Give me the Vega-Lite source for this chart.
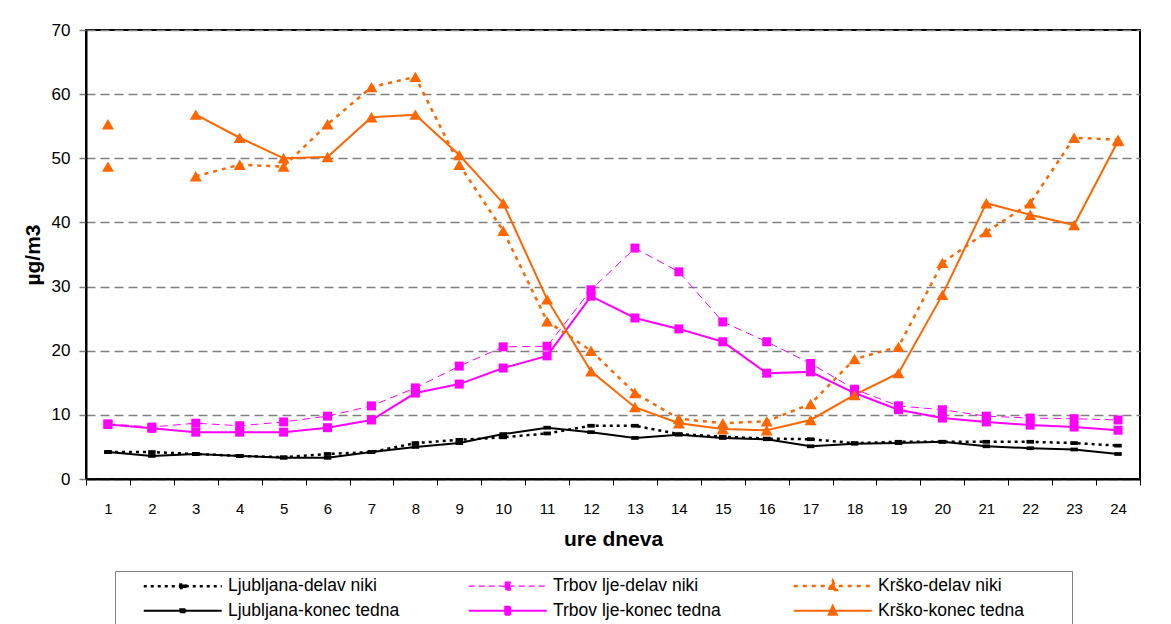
{
  "$schema": "https://vega.github.io/schema/vega-lite/v6.json",
  "autosize": {"type": "none"},
  "width": 1054,
  "height": 449,
  "padding": {"left": 86, "top": 30, "right": 31, "bottom": 145},
  "background": "#ffffff",
  "config": {
    "font": "Liberation Sans",
    "view": {"stroke": "#000000", "strokeWidth": 2}
  },
  "data": {
    "values": [
      {"h": 1, "s": "Ljubljana-delav niki", "v": 4.2}, {"h": 2, "s": "Ljubljana-delav niki", "v": 4.2}, {"h": 3, "s": "Ljubljana-delav niki", "v": 3.9}, {"h": 4, "s": "Ljubljana-delav niki", "v": 3.6}, {"h": 5, "s": "Ljubljana-delav niki", "v": 3.4}, {"h": 6, "s": "Ljubljana-delav niki", "v": 3.9}, {"h": 7, "s": "Ljubljana-delav niki", "v": 4.2}, {"h": 8, "s": "Ljubljana-delav niki", "v": 5.6}, {"h": 9, "s": "Ljubljana-delav niki", "v": 6.1}, {"h": 10, "s": "Ljubljana-delav niki", "v": 6.5}, {"h": 11, "s": "Ljubljana-delav niki", "v": 7.1}, {"h": 12, "s": "Ljubljana-delav niki", "v": 8.3}, {"h": 13, "s": "Ljubljana-delav niki", "v": 8.3}, {"h": 14, "s": "Ljubljana-delav niki", "v": 7.0}, {"h": 15, "s": "Ljubljana-delav niki", "v": 6.6}, {"h": 16, "s": "Ljubljana-delav niki", "v": 6.3}, {"h": 17, "s": "Ljubljana-delav niki", "v": 6.2}, {"h": 18, "s": "Ljubljana-delav niki", "v": 5.6}, {"h": 19, "s": "Ljubljana-delav niki", "v": 5.8}, {"h": 20, "s": "Ljubljana-delav niki", "v": 5.8}, {"h": 21, "s": "Ljubljana-delav niki", "v": 5.8}, {"h": 22, "s": "Ljubljana-delav niki", "v": 5.8}, {"h": 23, "s": "Ljubljana-delav niki", "v": 5.6}, {"h": 24, "s": "Ljubljana-delav niki", "v": 5.2},
      {"h": 1, "s": "Ljubljana-konec tedna", "v": 4.2}, {"h": 2, "s": "Ljubljana-konec tedna", "v": 3.6}, {"h": 3, "s": "Ljubljana-konec tedna", "v": 3.9}, {"h": 4, "s": "Ljubljana-konec tedna", "v": 3.6}, {"h": 5, "s": "Ljubljana-konec tedna", "v": 3.3}, {"h": 6, "s": "Ljubljana-konec tedna", "v": 3.3}, {"h": 7, "s": "Ljubljana-konec tedna", "v": 4.2}, {"h": 8, "s": "Ljubljana-konec tedna", "v": 5.0}, {"h": 9, "s": "Ljubljana-konec tedna", "v": 5.6}, {"h": 10, "s": "Ljubljana-konec tedna", "v": 7.0}, {"h": 11, "s": "Ljubljana-konec tedna", "v": 8.0}, {"h": 12, "s": "Ljubljana-konec tedna", "v": 7.3}, {"h": 13, "s": "Ljubljana-konec tedna", "v": 6.4}, {"h": 14, "s": "Ljubljana-konec tedna", "v": 6.9}, {"h": 15, "s": "Ljubljana-konec tedna", "v": 6.4}, {"h": 16, "s": "Ljubljana-konec tedna", "v": 6.2}, {"h": 17, "s": "Ljubljana-konec tedna", "v": 5.1}, {"h": 18, "s": "Ljubljana-konec tedna", "v": 5.5}, {"h": 19, "s": "Ljubljana-konec tedna", "v": 5.6}, {"h": 20, "s": "Ljubljana-konec tedna", "v": 5.8}, {"h": 21, "s": "Ljubljana-konec tedna", "v": 5.1}, {"h": 22, "s": "Ljubljana-konec tedna", "v": 4.8}, {"h": 23, "s": "Ljubljana-konec tedna", "v": 4.6}, {"h": 24, "s": "Ljubljana-konec tedna", "v": 3.9},
      {"h": 1, "s": "Trbov lje-delav niki", "v": 8.6}, {"h": 2, "s": "Trbov lje-delav niki", "v": 8.1}, {"h": 3, "s": "Trbov lje-delav niki", "v": 8.7}, {"h": 4, "s": "Trbov lje-delav niki", "v": 8.3}, {"h": 5, "s": "Trbov lje-delav niki", "v": 8.9}, {"h": 6, "s": "Trbov lje-delav niki", "v": 9.8}, {"h": 7, "s": "Trbov lje-delav niki", "v": 11.4}, {"h": 8, "s": "Trbov lje-delav niki", "v": 14.2}, {"h": 9, "s": "Trbov lje-delav niki", "v": 17.6}, {"h": 10, "s": "Trbov lje-delav niki", "v": 20.6}, {"h": 11, "s": "Trbov lje-delav niki", "v": 20.7}, {"h": 12, "s": "Trbov lje-delav niki", "v": 29.5}, {"h": 13, "s": "Trbov lje-delav niki", "v": 36.0}, {"h": 14, "s": "Trbov lje-delav niki", "v": 32.3}, {"h": 15, "s": "Trbov lje-delav niki", "v": 24.5}, {"h": 16, "s": "Trbov lje-delav niki", "v": 21.4}, {"h": 17, "s": "Trbov lje-delav niki", "v": 18.0}, {"h": 18, "s": "Trbov lje-delav niki", "v": 14.0}, {"h": 19, "s": "Trbov lje-delav niki", "v": 11.4}, {"h": 20, "s": "Trbov lje-delav niki", "v": 10.8}, {"h": 21, "s": "Trbov lje-delav niki", "v": 9.8}, {"h": 22, "s": "Trbov lje-delav niki", "v": 9.5}, {"h": 23, "s": "Trbov lje-delav niki", "v": 9.4}, {"h": 24, "s": "Trbov lje-delav niki", "v": 9.2},
      {"h": 1, "s": "Trbov lje-konec tedna", "v": 8.5}, {"h": 2, "s": "Trbov lje-konec tedna", "v": 7.9}, {"h": 3, "s": "Trbov lje-konec tedna", "v": 7.3}, {"h": 4, "s": "Trbov lje-konec tedna", "v": 7.3}, {"h": 5, "s": "Trbov lje-konec tedna", "v": 7.3}, {"h": 6, "s": "Trbov lje-konec tedna", "v": 8.0}, {"h": 7, "s": "Trbov lje-konec tedna", "v": 9.2}, {"h": 8, "s": "Trbov lje-konec tedna", "v": 13.4}, {"h": 9, "s": "Trbov lje-konec tedna", "v": 14.8}, {"h": 10, "s": "Trbov lje-konec tedna", "v": 17.3}, {"h": 11, "s": "Trbov lje-konec tedna", "v": 19.2}, {"h": 12, "s": "Trbov lje-konec tedna", "v": 28.5}, {"h": 13, "s": "Trbov lje-konec tedna", "v": 25.1}, {"h": 14, "s": "Trbov lje-konec tedna", "v": 23.4}, {"h": 15, "s": "Trbov lje-konec tedna", "v": 21.4}, {"h": 16, "s": "Trbov lje-konec tedna", "v": 16.5}, {"h": 17, "s": "Trbov lje-konec tedna", "v": 16.7}, {"h": 18, "s": "Trbov lje-konec tedna", "v": 13.4}, {"h": 19, "s": "Trbov lje-konec tedna", "v": 10.8}, {"h": 20, "s": "Trbov lje-konec tedna", "v": 9.5}, {"h": 21, "s": "Trbov lje-konec tedna", "v": 8.9}, {"h": 22, "s": "Trbov lje-konec tedna", "v": 8.4}, {"h": 23, "s": "Trbov lje-konec tedna", "v": 8.1}, {"h": 24, "s": "Trbov lje-konec tedna", "v": 7.6},
      {"h": 1, "s": "Krško-delav niki", "v": 55.3}, {"h": 2, "s": "Krško-delav niki", "v": null}, {"h": 3, "s": "Krško-delav niki", "v": 47.2}, {"h": 4, "s": "Krško-delav niki", "v": 49.0}, {"h": 5, "s": "Krško-delav niki", "v": 48.7}, {"h": 6, "s": "Krško-delav niki", "v": 55.3}, {"h": 7, "s": "Krško-delav niki", "v": 61.1}, {"h": 8, "s": "Krško-delav niki", "v": 62.7}, {"h": 9, "s": "Krško-delav niki", "v": 49.0}, {"h": 10, "s": "Krško-delav niki", "v": 38.7}, {"h": 11, "s": "Krško-delav niki", "v": 24.6}, {"h": 12, "s": "Krško-delav niki", "v": 20.0}, {"h": 13, "s": "Krško-delav niki", "v": 13.4}, {"h": 14, "s": "Krško-delav niki", "v": 9.4}, {"h": 15, "s": "Krško-delav niki", "v": 8.7}, {"h": 16, "s": "Krško-delav niki", "v": 9.0}, {"h": 17, "s": "Krško-delav niki", "v": 11.7}, {"h": 18, "s": "Krško-delav niki", "v": 18.7}, {"h": 19, "s": "Krško-delav niki", "v": 20.6}, {"h": 20, "s": "Krško-delav niki", "v": 33.7}, {"h": 21, "s": "Krško-delav niki", "v": 38.5}, {"h": 22, "s": "Krško-delav niki", "v": 43.0}, {"h": 23, "s": "Krško-delav niki", "v": 53.2}, {"h": 24, "s": "Krško-delav niki", "v": 52.9},
      {"h": 1, "s": "Krško-konec tedna", "v": 48.7}, {"h": 2, "s": "Krško-konec tedna", "v": null}, {"h": 3, "s": "Krško-konec tedna", "v": 56.8}, {"h": 4, "s": "Krško-konec tedna", "v": 53.2}, {"h": 5, "s": "Krško-konec tedna", "v": 50.0}, {"h": 6, "s": "Krško-konec tedna", "v": 50.2}, {"h": 7, "s": "Krško-konec tedna", "v": 56.4}, {"h": 8, "s": "Krško-konec tedna", "v": 56.8}, {"h": 9, "s": "Krško-konec tedna", "v": 50.5}, {"h": 10, "s": "Krško-konec tedna", "v": 43.0}, {"h": 11, "s": "Krško-konec tedna", "v": 28.0}, {"h": 12, "s": "Krško-konec tedna", "v": 16.8}, {"h": 13, "s": "Krško-konec tedna", "v": 11.2}, {"h": 14, "s": "Krško-konec tedna", "v": 8.7}, {"h": 15, "s": "Krško-konec tedna", "v": 7.8}, {"h": 16, "s": "Krško-konec tedna", "v": 7.6}, {"h": 17, "s": "Krško-konec tedna", "v": 9.2}, {"h": 18, "s": "Krško-konec tedna", "v": 13.1}, {"h": 19, "s": "Krško-konec tedna", "v": 16.5}, {"h": 20, "s": "Krško-konec tedna", "v": 28.7}, {"h": 21, "s": "Krško-konec tedna", "v": 43.0}, {"h": 22, "s": "Krško-konec tedna", "v": 41.2}, {"h": 23, "s": "Krško-konec tedna", "v": 39.6}, {"h": 24, "s": "Krško-konec tedna", "v": 52.7}
    ]
  },
  "encoding": {
    "x": {
      "field": "h", "type": "ordinal", "bandPosition": 0.5,
      "scale": {"type": "band", "paddingInner": 0, "paddingOuter": 0},
      "axis": {
        "title": "ure dneva", "titleFont": "Liberation Sans", "titleFontSize": 21, "titleFontWeight": "bold", "titleColor": "#000000", "titlePadding": 12,
        "labelAngle": 0, "labelFont": "Liberation Sans", "labelFontSize": 15, "labelColor": "#000000", "labelPadding": 16,
        "tickBand": "extent", "tickSize": 6, "tickColor": "#000000", "tickWidth": 1,
        "domainColor": "#000000", "domainWidth": 2, "grid": false
      }
    },
    "y": {
      "field": "v", "type": "quantitative",
      "scale": {"domain": [0, 70], "nice": false},
      "axis": {
        "title": "µg/m3", "titleFont": "Liberation Sans", "titleFontSize": 21, "titleFontWeight": "bold", "titleColor": "#000000", "titlePadding": 8,
        "values": [0, 10, 20, 30, 40, 50, 60, 70],
        "labelFont": "Liberation Sans", "labelFontSize": 17, "labelColor": "#000000", "labelPadding": 9,
        "tickSize": 7, "tickColor": "#808080", "tickWidth": 1.5,
        "domainColor": "#000000", "domainWidth": 2,
        "grid": true, "gridColor": "#808080", "gridDash": [9, 5], "gridWidth": 1.5
      }
    },
    "color": {
      "field": "s", "type": "nominal",
      "scale": {
        "domain": ["Ljubljana-delav niki", "Trbov lje-delav niki", "Krško-delav niki", "Ljubljana-konec tedna", "Trbov lje-konec tedna", "Krško-konec tedna"],
        "range": ["#000000", "#FF00FF", "#FF6600", "#000000", "#FF00FF", "#FF6600"]
      },
      "legend": {
        "title": null, "orient": "none", "legendX": 29, "legendY": 541,
        "columns": 3, "direction": "horizontal", "gridAlign": "all",
        "padding": 6, "strokeColor": "#808080", "fillColor": "#ffffff",
        "columnPadding": 25, "rowPadding": 6,
        "labelFont": "Liberation Sans", "labelFontSize": 17.5, "labelColor": "#000000", "labelOffset": 36.5, "labelLimit": 400,
        "symbolSize": 100, "symbolOffset": 53,
        "symbolType": {"expr": "(['M-12.3,0L-12.3,0M45.5,0L45.5,0M-7.8,0L7.8,0M-0.7,-0.35L0.7,-0.35L0.7,0.35L-0.7,0.35Z','M-12.3,0L-12.3,0M45.5,0L45.5,0M-7.8,0L7.8,0M-0.5,-0.8L0.5,-0.8L0.5,0.8L-0.5,0.8Z','M-12.3,0L-12.3,0M45.5,0L45.5,0M-7.8,0L7.8,0M0,-1L0.8,0.8L-0.8,0.8Z','M-12.3,0L-12.3,0M45.5,0L45.5,0M-7.8,0L7.8,0M-0.5,-0.3L0.5,-0.3L0.5,0.3L-0.5,0.3Z','M-12.3,0L-12.3,0M45.5,0L45.5,0M-7.8,0L7.8,0M-0.5,-0.8L0.5,-0.8L0.5,0.8L-0.5,0.8Z','M-12.3,0L-12.3,0M45.5,0L45.5,0M-7.8,0L7.8,0M0,-1L0.8,0.8L-0.8,0.8Z'])[indexof(['Ljubljana-delav niki','Trbov lje-delav niki','Krško-delav niki','Ljubljana-konec tedna','Trbov lje-konec tedna','Krško-konec tedna'], datum.value)] || 'circle'"},
        "symbolDash": {"expr": "([[3,4],[6,4],[4,5],[1,0],[1,0],[1,0]])[indexof(['Ljubljana-delav niki','Trbov lje-delav niki','Krško-delav niki','Ljubljana-konec tedna','Trbov lje-konec tedna','Krško-konec tedna'], datum.value)] || [1,0]"},
        "symbolStrokeWidth": {"expr": "([2.5,1.2,2.5,2,2,2])[indexof(['Ljubljana-delav niki','Trbov lje-delav niki','Krško-delav niki','Ljubljana-konec tedna','Trbov lje-konec tedna','Krško-konec tedna'], datum.value)] || 2"},
        "symbolFillColor": {"expr": "(['#000000','#FF00FF','#FF6600','#000000','#FF00FF','#FF6600'])[indexof(['Ljubljana-delav niki','Trbov lje-delav niki','Krško-delav niki','Ljubljana-konec tedna','Trbov lje-konec tedna','Krško-konec tedna'], datum.value)] || '#000000'"},
        "symbolStrokeColor": {"expr": "(['#000000','#FF00FF','#FF6600','#000000','#FF00FF','#FF6600'])[indexof(['Ljubljana-delav niki','Trbov lje-delav niki','Krško-delav niki','Ljubljana-konec tedna','Trbov lje-konec tedna','Krško-konec tedna'], datum.value)] || '#000000'"},
        "symbolOpacity": 1
      }
    }
  },
  "layer": [
    {"transform": [{"filter": {"field": "s", "equal": "Ljubljana-delav niki"}}], "mark": {"type": "line", "invalid": "break-paths-show-domains", "strokeDash": [3, 4], "strokeWidth": 2.5}},
    {"transform": [{"filter": {"field": "s", "equal": "Ljubljana-konec tedna"}}], "mark": {"type": "line", "invalid": "break-paths-show-domains", "strokeWidth": 2}},
    {"transform": [{"filter": {"field": "s", "equal": "Trbov lje-delav niki"}}], "mark": {"type": "line", "invalid": "break-paths-show-domains", "strokeDash": [8, 5], "strokeWidth": 1}},
    {"transform": [{"filter": {"field": "s", "equal": "Trbov lje-konec tedna"}}], "mark": {"type": "line", "invalid": "break-paths-show-domains", "strokeWidth": 2}},
    {"transform": [{"filter": {"field": "s", "equal": "Krško-delav niki"}}], "mark": {"type": "line", "invalid": "break-paths-show-domains", "strokeDash": [4, 5], "strokeWidth": 2.5}},
    {"transform": [{"filter": {"field": "s", "equal": "Krško-konec tedna"}}], "mark": {"type": "line", "invalid": "break-paths-show-domains", "strokeWidth": 2}},
    {"transform": [{"filter": {"field": "s", "oneOf": ["Ljubljana-delav niki", "Ljubljana-konec tedna"]}}], "mark": {"type": "point", "filled": true, "opacity": 1, "shape": "M-1,-0.5L1,-0.5L1,0.5L-1,0.5Z", "size": 56}},
    {"transform": [{"filter": {"field": "s", "oneOf": ["Trbov lje-delav niki", "Trbov lje-konec tedna"]}}], "mark": {"type": "point", "filled": true, "opacity": 1, "shape": "square", "size": 81}},
    {"transform": [{"filter": {"field": "s", "oneOf": ["Krško-delav niki", "Krško-konec tedna"]}}], "mark": {"type": "point", "filled": true, "opacity": 1, "shape": "triangle-up", "size": 144}}
  ]
}
